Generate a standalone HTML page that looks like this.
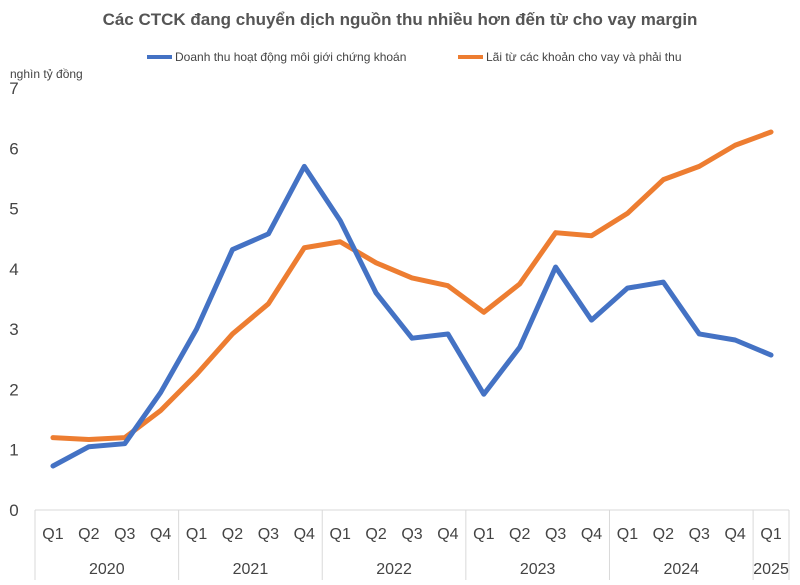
<!DOCTYPE html>
<html><head><meta charset="utf-8"><style>
body{margin:0;background:#fff;width:800px;height:580px;overflow:hidden;font-family:"Liberation Sans",sans-serif}
</style></head><body>
<svg id="chart" width="800" height="580" xmlns="http://www.w3.org/2000/svg">
<text x="400" y="25" text-anchor="middle" font-size="17" font-weight="bold" fill="#555">Các CTCK đang chuyển dịch nguồn thu nhiều hơn đến từ cho vay margin</text>
<g>
<line x1="147" y1="57" x2="172" y2="57" stroke="#4472C4" stroke-width="4"/>
<text x="175" y="61" font-size="12" fill="#444">Doanh thu hoạt động môi giới chứng khoán</text>
<line x1="458" y1="57" x2="483" y2="57" stroke="#ED7D31" stroke-width="4"/>
<text x="486" y="61" font-size="12" fill="#444">Lãi từ các khoản cho vay và phải thu</text>
</g>
<text x="10" y="78" font-size="12" fill="#444">nghìn tỷ đồng</text>
<g id="axes"></g>
<g id="series"></g>
</svg>
<script>
const quarters=["Q1","Q2","Q3","Q4","Q1","Q2","Q3","Q4","Q1","Q2","Q3","Q4","Q1","Q2","Q3","Q4","Q1","Q2","Q3","Q4","Q1"];
const years=["2020","2021","2022","2023","2024","2025"];
const yearQuarterCounts=[4,4,4,4,4,1];
const brokerage=[0.73,1.05,1.1,1.95,3.0,4.32,4.58,5.7,4.8,3.6,2.85,2.92,1.92,2.7,4.03,3.15,3.68,3.78,2.92,2.82,2.57];
const marginInterest=[1.2,1.17,1.2,1.65,2.25,2.92,3.42,4.35,4.45,4.1,3.85,3.72,3.28,3.75,4.6,4.55,4.92,5.48,5.7,6.05,6.27];
const yTicks=[0,1,2,3,4,5,6,7];

const NS="http://www.w3.org/2000/svg";
const left=35,right=789,y0=510,y7=88;
const band=(right-left)/quarters.length;
const x=i=>left+band*(i+0.5);
const y=v=>y0-(y0-y7)*v/7;
function mk(tag,attrs,parent){const e=document.createElementNS(NS,tag);for(const k in attrs)e.setAttribute(k,attrs[k]);parent.appendChild(e);return e;}
const axes=document.getElementById('axes'),series=document.getElementById('series');
yTicks.forEach(t=>{
  const e=mk('text',{x:14,y:y(t)+6,'text-anchor':'middle','font-size':'17',fill:'#444'},axes);
  
  
  e.textContent=t;
});
const ax=mk('line',{x1:left,y1:y0,x2:right,y2:y0,stroke:'#d9d9d9'},axes);


quarters.forEach((q,i)=>{
  const e=mk('text',{x:x(i),y:539,'text-anchor':'middle','font-size':'16',fill:'#444'},axes);
  
  
  e.textContent=q;
});
let start=0;
const sep0=mk('line',{x1:left,y1:y0,x2:left,y2:580,stroke:'#d9d9d9'},axes);


years.forEach((yr,j)=>{
  const n=yearQuarterCounts[j];
  const cx=left+band*(start+n/2);
  const e=mk('text',{x:cx,y:574,'text-anchor':'middle','font-size':'16',fill:'#444'},axes);
  
  
  e.textContent=yr;
  start+=n;
  const s=mk('line',{x1:left+band*start,y1:y0,x2:left+band*start,y2:580,stroke:'#d9d9d9'},axes);
  
  
});
function line(vals,color,name){
  const p=mk('polyline',{points:vals.map((v,i)=>x(i)+','+y(v)).join(' '),fill:'none',stroke:color,'stroke-width':'5','stroke-linejoin':'round','stroke-linecap':'round'},series);
  
  
}
line(marginInterest,'#ED7D31','series-margin-interest');
line(brokerage,'#4472C4','series-brokerage');
</script>
</body></html>
